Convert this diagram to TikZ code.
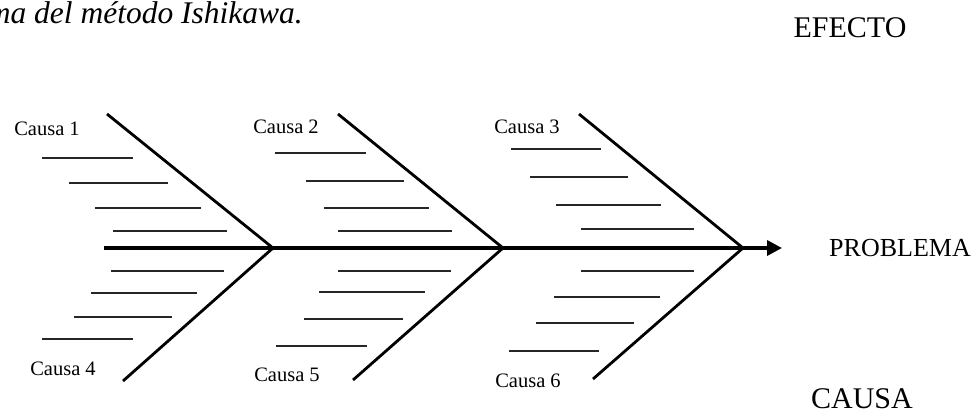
\documentclass[tikz,border=0pt]{standalone}
\usepackage{fontspec}
\setmainfont{Liberation Serif}
\usetikzlibrary{arrows.meta}
\tikzset{
    spine/.style={line width=3.4pt, -{Triangle[length=15pt, width=15pt]}},
    bone/.style={line width=2.8pt},
    rib/.style={line width=1.2pt, black!85},
    cause label/.style={font=\fontsize{20.5}{24}\selectfont, anchor=base, inner sep=0pt},
    side label/.style={font=\fontsize{30}{34}\selectfont, anchor=base, inner sep=0pt},
    problem label/.style={font=\fontsize{26}{30}\selectfont, anchor=base, inner sep=0pt},
    title label/.style={font=\fontsize{31.5}{36}\selectfont\itshape, anchor=base east, inner sep=0pt}
}

\begin{document}
\begin{tikzpicture}[x=1pt, y=-1pt]
    \useasboundingbox (0,0) rectangle (977,413);

    % --- Title and side labels ---
    \node (title) [title label] at (303,23) {ma del método Ishikawa.};
    \node (effect) [side label] at (850,37) {EFECTO};
    \node (cause) [side label] at (862,408) {CAUSA};
    \node (problem) [problem label] at (900,256) {PROBLEMA};

    % --- Spine and junctions ---
    \coordinate (tail) at (104,248);
    \coordinate (head) at (782,248);
    \coordinate (j1) at (273,248);
    \coordinate (j2) at (503,248);
    \coordinate (j3) at (743,248);

    % --- Bone ends ---
    \coordinate (u1) at (107,114);
    \coordinate (l1) at (123,381);
    \coordinate (u2) at (338,114);
    \coordinate (l2) at (353,380);
    \coordinate (u3) at (579,114);
    \coordinate (l3) at (593,379);

    % --- Cause labels ---
    \node (cause1) [cause label] at (47,135) {Causa 1};
    \node (cause2) [cause label] at (286,133) {Causa 2};
    \node (cause3) [cause label] at (527,133) {Causa 3};
    \node (cause4) [cause label] at (63,375) {Causa 4};
    \node (cause5) [cause label] at (287,381) {Causa 5};
    \node (cause6) [cause label] at (528,387) {Causa 6};

    % --- Bones ---
    \draw[spine] (tail) -- (head);
    \draw[bone] (u1) -- (j1) -- (l1);
    \draw[bone] (u2) -- (j2) -- (l2);
    \draw[bone] (u3) -- (j3) -- (l3);

    % --- Ribs, first bone ---
    \draw[rib] (42,158) -- (133,158);
    \draw[rib] (69,183) -- (168,183);
    \draw[rib] (95,208) -- (201,208);
    \draw[rib] (113,231) -- (227,231);
    \draw[rib] (111,271) -- (224,271);
    \draw[rib] (91,293) -- (197,293);
    \draw[rib] (74,317) -- (172,317);
    \draw[rib] (42,339) -- (133,339);

    % --- Ribs, second bone ---
    \draw[rib] (275,153) -- (366,153);
    \draw[rib] (306,181) -- (404,181);
    \draw[rib] (324,208) -- (429,208);
    \draw[rib] (338,231) -- (452,231);
    \draw[rib] (338,271) -- (451,271);
    \draw[rib] (319,292) -- (425,292);
    \draw[rib] (304,319) -- (403,319);
    \draw[rib] (276,346) -- (367,346);

    % --- Ribs, third bone ---
    \draw[rib] (511,149) -- (601,149);
    \draw[rib] (530,177) -- (628,177);
    \draw[rib] (556,205) -- (661,205);
    \draw[rib] (581,229) -- (694,229);
    \draw[rib] (581,271) -- (694,271);
    \draw[rib] (554,297) -- (660,297);
    \draw[rib] (536,323) -- (634,323);
    \draw[rib] (509,351) -- (599,351);
\end{tikzpicture}
\end{document}
